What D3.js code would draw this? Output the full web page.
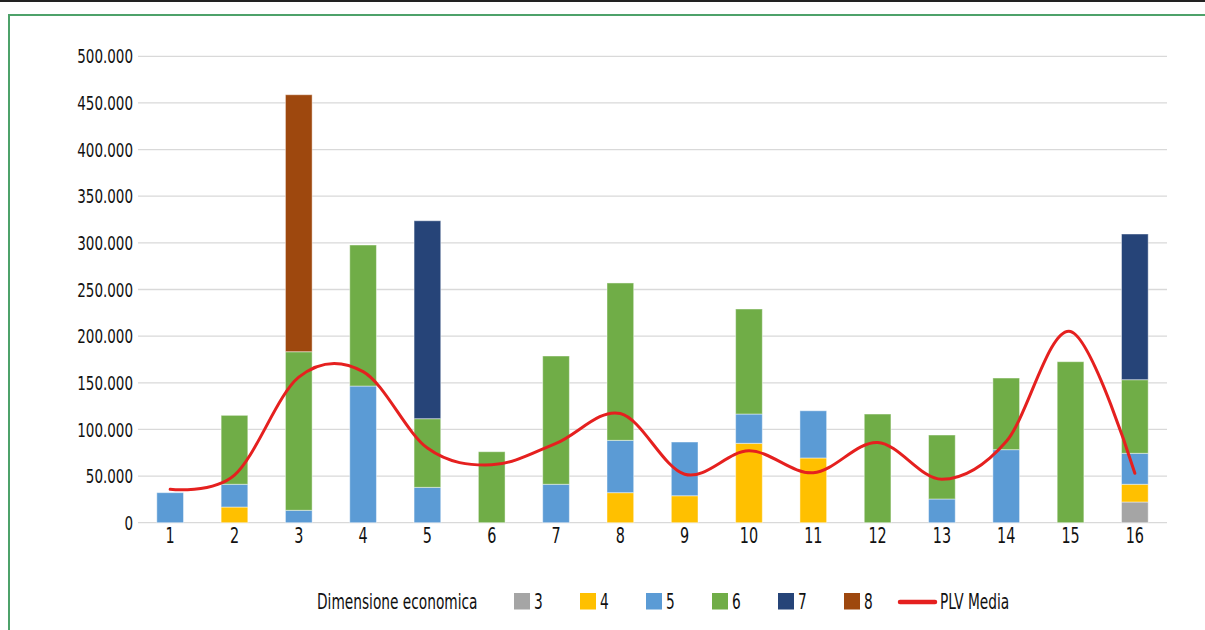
<!DOCTYPE html>
<html><head><meta charset="utf-8">
<script src="https://cdn.jsdelivr.net/npm/d3@7"></script>
<style>
body{margin:0;background:#fff;}
text{font-family:"Liberation Sans Narrow","DejaVu Sans Condensed","DejaVu Sans",sans-serif;font-stretch:semi-condensed;fill:#111;}
</style></head>
<body><svg id="c" width="1205" height="630"></svg>
<script>
const categories = ["1","2","3","4","5","6","7","8","9","10","11","12","13","14","15","16"];
const seriesNames = ["3","4","5","6","7","8"];
const dim3 = [0,0,0,0,0,0,0,0,0,0,0,0,0,0,0,22200];
const dim4 = [0,16800,0,0,0,0,0,32200,28900,85100,69400,0,0,0,0,19000];
const dim5 = [32200,24400,13300,146500,37900,0,41200,56100,57600,31400,50600,0,25400,78300,0,33200];
const dim6 = [0,73900,170000,151200,73600,76100,137500,168700,0,112600,0,116500,68600,76800,172600,78900];
const dim7 = [0,0,0,0,212200,0,0,0,0,0,0,0,0,0,0,156200];
const dim8 = [0,0,275500,0,0,0,0,0,0,0,0,0,0,0,0,0];
const plvMedia = [35800,51000,156000,162000,80000,62000,85000,117000,52000,77000,53500,86000,46500,87000,205000,53000];
const yTicks = [0,50000,100000,150000,200000,250000,300000,350000,400000,450000,500000];
const colors = ["#a5a5a5","#ffc000","#5b9bd5","#70ad47","#264478","#9e480e"];
const lineColor = "#e5201f";

const svg = d3.select("#c");
// frame
svg.append("line").attr("x1",0).attr("x2",1205).attr("y1",1).attr("y2",1).attr("stroke","#222").attr("stroke-width",2);
svg.append("path").attr("d","M9,640 L9,15 L1210,15").attr("fill","none").attr("stroke","#4ea26a").attr("stroke-width",2);

const x = d3.scaleBand().domain(categories).range([138,1167]).paddingInner(0.585).paddingOuter(0.2925);
const y = d3.scaleLinear().domain([0,500000]).range([522.7,56.3]);

// grid
svg.append("g").selectAll("line").data(yTicks).join("line")
 .attr("x1",138).attr("x2",1167).attr("y1",d=>y(d)).attr("y2",d=>y(d))
 .attr("stroke","#d9d9d9").attr("stroke-width",1.3);

function condense(sel,k){
  sel.each(function(){
    const t=d3.select(this);
    const xv=+t.attr("x")||0;
    t.attr("x",xv/k).attr("transform",`scale(${k},1)`);
  });
}

// y axis
const yAxis = d3.axisLeft(y).tickValues(yTicks).tickSize(0).tickPadding(5)
  .tickFormat(d=> d===0 ? "0" : d3.format(",")(d).replace(/,/g,"."));
const ya = svg.append("g").attr("transform","translate(138,0)").call(yAxis);
ya.select(".domain").remove();
ya.selectAll("text").attr("font-size",19).attr("dy","0.35em").attr("fill","#111").style("font-family",null);
condense(ya.selectAll("text"),0.79);

// x axis
const xAxis = d3.axisBottom(x).tickSize(0).tickPadding(6);
const xa = svg.append("g").attr("transform","translate(0,522.7)").call(xAxis);
xa.select(".domain").remove();
xa.selectAll("text").attr("font-size",20.5).attr("fill","#111").style("font-family",null);
condense(xa.selectAll("text"),0.78);

// stacked bars
const table = categories.map((c,i)=>({cat:c,"3":dim3[i],"4":dim4[i],"5":dim5[i],"6":dim6[i],"7":dim7[i],"8":dim8[i]}));
const stack = d3.stack().keys(seriesNames)(table);
const bars = svg.append("g");
stack.forEach((s,si)=>{
  bars.append("g").selectAll("rect").data(s.filter(d=>d[1]-d[0]>0)).join("rect")
   .attr("x",d=>x(d.data.cat)).attr("width",x.bandwidth())
   .attr("y",d=>y(d[1])).attr("height",d=>y(d[0])-y(d[1]))
   .attr("fill",colors[si]).attr("stroke","#fff").attr("stroke-opacity",0.45).attr("stroke-width",1);
});

// line
const line = d3.line().x((d,i)=>x(categories[i])+x.bandwidth()/2).y(d=>y(d)).curve(d3.curveCatmullRom.alpha(0));
svg.append("path").datum(plvMedia).attr("d",line).attr("fill","none").attr("stroke",lineColor).attr("stroke-width",3).attr("stroke-linecap","round");

// legend
const lg = svg.append("g");
const fs = 20.5, kL = 0.745;
function ltext(xp,str){
  lg.append("text").attr("transform",`translate(${xp},609) scale(${kL},1)`).attr("font-size",fs).text(str);
}
ltext(317,"Dimensione economica");
const swX = [514,580,646,712,778,844];
seriesNames.forEach((n,i)=>{
  lg.append("rect").attr("x",swX[i]).attr("y",593).attr("width",16).attr("height",16.5).attr("fill",colors[i]);
  ltext(swX[i]+20,n);
});
lg.append("line").attr("x1",900).attr("x2",935).attr("y1",602).attr("y2",602).attr("stroke",lineColor).attr("stroke-width",4.5).attr("stroke-linecap","round");
ltext(940,"PLV Media");
</script></body></html>
